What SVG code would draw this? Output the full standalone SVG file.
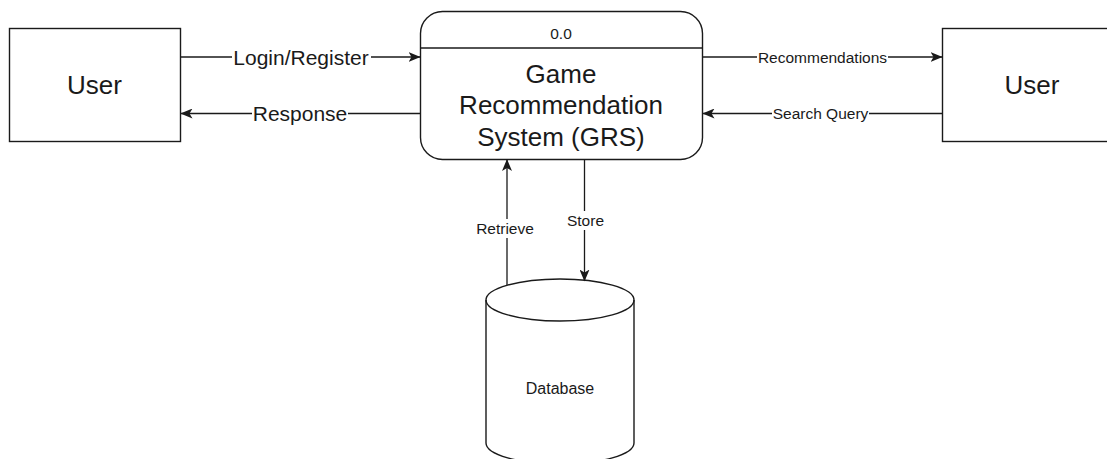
<svg xmlns="http://www.w3.org/2000/svg" width="1107" height="459" viewBox="0 0 1107 459">
  <style>
    .shape { fill: #ffffff; stroke: #1a1a1a; stroke-width: 1.4; }
    .flow { fill: none; stroke: #1a1a1a; stroke-width: 1.3; marker-end: url(#arrow); }
    text { font-family: "Liberation Sans", Arial, sans-serif; fill: #1a1a1a; text-anchor: middle; }
    .big { font-size: 26px; }
    .lbl-lg { font-size: 21px; }
    .lbl-sm { font-size: 15.5px; }
    .bg { fill: #ffffff; stroke: none; }
  </style>
  <defs>
    <marker id="arrow" markerUnits="userSpaceOnUse" markerWidth="12" markerHeight="10" viewBox="0 0 12 10" refX="11.5" refY="5" orient="auto">
      <path d="M0,0 L12,5 L0,10 L3,5 z" fill="#1a1a1a"/>
    </marker>
  </defs>

  <rect width="1107" height="459" fill="#ffffff"/>

  <!-- external entity (left) -->
  <g id="user-left">
    <rect class="shape" x="9.5" y="28.5" width="171" height="113"/>
    <text class="big" x="94.5" y="94">User</text>
  </g>

  <!-- central process -->
  <g id="grs">
    <rect class="shape" x="420.5" y="11.5" width="282" height="148" rx="22" ry="22"/>
    <line x1="420.5" y1="48" x2="702.5" y2="48" stroke="#1a1a1a" stroke-width="1.4"/>
    <text class="lbl-sm" x="561" y="39">0.0</text>
    <text class="big" x="561" y="83">Game</text>
    <text class="big" x="561" y="114">Recommendation</text>
    <text class="big" x="561" y="146">System (GRS)</text>
  </g>

  <!-- external entity (right) -->
  <g id="user-right">
    <rect class="shape" x="942.5" y="28.5" width="180" height="113"/>
    <text class="big" x="1032" y="94">User</text>
  </g>

  <!-- data store -->
  <g id="database">
    <path class="shape" d="M486,300 A74,21 0 0 1 634,300 L634,443 A74,21 0 0 1 486,443 Z"/>
    <path d="M486,300 A74,21 0 0 0 634,300" fill="none" stroke="#1a1a1a" stroke-width="1.4"/>
    <text class="lbl-sm" x="560" y="394" style="font-size:16px">Database</text>
  </g>

  <!-- data flows -->
  <g id="connectors">
    <line class="flow" x1="180.5" y1="57" x2="420" y2="57"/>
    <rect class="bg" x="232" y="46" width="139" height="24"/>
    <text class="lbl-lg" x="301" y="65">Login/Register</text>

    <line class="flow" x1="420" y1="113.5" x2="181" y2="113.5"/>
    <rect class="bg" x="252" y="102" width="96" height="24"/>
    <text class="lbl-lg" x="300" y="121">Response</text>

    <line class="flow" x1="702.5" y1="57" x2="942" y2="57"/>
    <rect class="bg" x="757" y="48" width="131" height="18"/>
    <text class="lbl-sm" x="822.5" y="62.5">Recommendations</text>

    <line class="flow" x1="942" y1="113.5" x2="703" y2="113.5"/>
    <rect class="bg" x="772" y="105" width="97" height="18"/>
    <text class="lbl-sm" x="820.5" y="119">Search Query</text>

    <line class="flow" x1="507" y1="285" x2="507" y2="159.5"/>
    <rect class="bg" x="474" y="219" width="64" height="19"/>
    <text class="lbl-sm" x="505" y="234">Retrieve</text>

    <line class="flow" x1="584.5" y1="159.5" x2="584.5" y2="281"/>
    <rect class="bg" x="565" y="211" width="42" height="19"/>
    <text class="lbl-sm" x="585.5" y="226">Store</text>
  </g>
</svg>
